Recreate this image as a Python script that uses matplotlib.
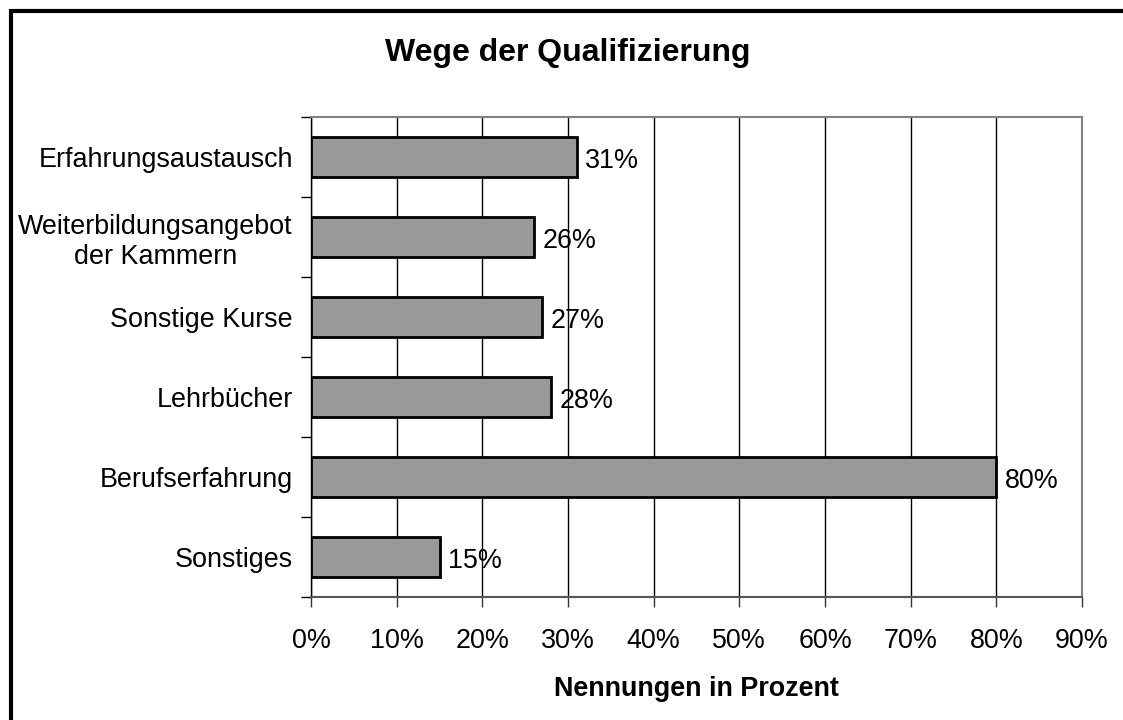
import matplotlib
matplotlib.use("Agg")
import matplotlib.pyplot as plt
from matplotlib.patches import Rectangle
import numpy as np

categories = ["Erfahrungsaustausch", "Weiterbildungsangebot\nder Kammern", "Sonstige Kurse",
              "Lehrbücher", "Berufserfahrung", "Sonstiges"]
values = [31, 26, 27, 28, 80, 15]
xticks = list(range(0, 91, 10))
title = "Wege der Qualifizierung"
xlabel = "Nennungen in Prozent"

plt.rcParams['font.family'] = ['Liberation Sans', 'DejaVu Sans']
FS = 19.4

fig = plt.figure(figsize=(11.23, 7.2), dpi=100)
ax = fig.add_axes([311/1123, (720-597)/720, (1082-311)/1123, (597-117)/720])

y = np.arange(len(categories))
ax.barh(y, values, height=0.51, color='#999999', edgecolor='black', linewidth=2, zorder=3)
for yi, v in zip(y, values):
    ax.text(v + 1.0, yi + 0.05, f"{v}%", va='center', ha='left', fontsize=FS, zorder=4)

ax.set_xlim(0, 90)
ax.set_ylim(len(categories) - 0.5, -0.5)
ax.set_xticks(xticks)
ax.set_xticklabels([f"{t}%" for t in xticks], fontsize=FS)
ax.set_yticks(y)
ax.set_yticklabels(categories, fontsize=FS, multialignment='center')
ax.tick_params(axis='y', which='major', length=0, pad=13)
ax.set_yticks(np.arange(-0.5, len(categories), 1.0), minor=True)
ax.tick_params(axis='y', which='minor', length=7, width=1, color='black', direction='out')
ax.tick_params(axis='x', which='major', length=7, width=1, color='#333333', direction='out', pad=15)

ax.grid(axis='x', color='black', linewidth=1, zorder=1)
ax.set_axisbelow(True)
for s in ['top', 'right']:
    ax.spines[s].set_color('#808080')
    ax.spines[s].set_linewidth(1.5)
ax.spines['bottom'].set_color('#555555')
ax.spines['bottom'].set_linewidth(1.5)
ax.spines['left'].set_color('black')
ax.spines['left'].set_linewidth(1)

ax.set_xlabel(xlabel, fontsize=FS, fontweight='bold', labelpad=16)
fig.text(568/1123, 1 - 53/720, title, fontsize=23, fontweight='bold', ha='center', va='center')

fig.patches.append(Rectangle((11/1123, -0.5), 2.0, 1.5 - 11/720, transform=fig.transFigure,
                             fill=False, edgecolor='black', linewidth=3))

fig.savefig("out.png", dpi=100)
